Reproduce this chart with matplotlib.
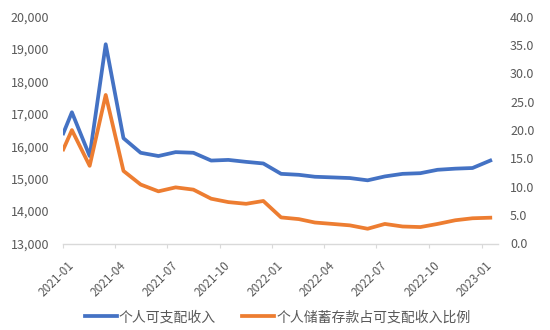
import matplotlib
matplotlib.use("Agg")
import matplotlib.pyplot as plt
import matplotlib.transforms as mtrans
from matplotlib.ticker import FuncFormatter, MultipleLocator
import pandas as pd

plt.rcParams['font.family'] = ['Noto Sans CJK SC', 'DejaVu Sans']

# first point sits at the start of Jan 2021, the rest are mid-month
dates = [pd.Timestamp('2021-01-01')] + list(pd.date_range('2021-01-01', '2023-01-01', freq='MS') + pd.Timedelta(days=15))

# 个人可支配收入 (left axis)
income = [16400, 17050, 15700, 19150, 16250, 15800, 15700, 15820, 15800, 15560,
          15580, 15520, 15470, 15150, 15120, 15060, 15040, 15020, 14950, 15070,
          15150, 15170, 15275, 15310, 15330, 15560]
# 个人储蓄存款占可支配收入比例 (right axis)
ratio = [16.6, 20.0, 13.7, 26.2, 12.8, 10.4, 9.2, 9.9, 9.5, 7.9,
         7.3, 7.0, 7.5, 4.6, 4.3, 3.7, 3.45, 3.2, 2.6, 3.45,
         3.0, 2.9, 3.45, 4.1, 4.45, 4.55]

tick_dates = pd.date_range('2021-01-01', '2023-01-01', freq='3MS')
tick_labels = [d.strftime('%Y-%m') for d in tick_dates]

gray = '#595959'
blue = '#4472C4'
orange = '#ED7D31'

fig = plt.figure(figsize=(5.5, 3.3), dpi=100)
ax = fig.add_axes([63.3 / 550, 1 - 243.5 / 330, (498.3 - 63.3) / 550, (243.5 - 16.7) / 330])
ax2 = ax.twinx()

l1, = ax.plot(dates, income, color=blue, lw=2.7, solid_joinstyle='round')
l2, = ax2.plot(dates, ratio, color=orange, lw=2.7, solid_joinstyle='round')

ax.set_xlim(pd.Timestamp('2021-01-01'), pd.Timestamp('2023-01-30'))
ax.set_ylim(13000, 20000)
ax2.set_ylim(0, 40)
ax.yaxis.set_major_locator(MultipleLocator(1000))
ax2.yaxis.set_major_locator(MultipleLocator(5))
ax.yaxis.set_major_formatter(FuncFormatter(lambda v, p: '{:,.0f}'.format(v)))
ax2.yaxis.set_major_formatter(FuncFormatter(lambda v, p: '{:.1f}'.format(v)))

for s in ['top', 'left', 'right']:
    ax.spines[s].set_visible(False)
for s in ['top', 'left', 'right', 'bottom']:
    ax2.spines[s].set_visible(False)
ax.spines['bottom'].set_color('#D9D9D9')
ax.spines['bottom'].set_linewidth(1)

ax.tick_params(axis='x', length=3, color='#D9D9D9', pad=8)
ax.tick_params(axis='y', length=0, pad=10, labelsize=9, labelcolor=gray)
ax2.tick_params(axis='y', length=0, pad=8.5, labelsize=9, labelcolor=gray)

ax.set_xticks(tick_dates)
ax.set_xticklabels(tick_labels, rotation=45, ha='right', fontsize=8.5, color=gray)
# Excel puts the rotated labels a bit right of the tick
offset = mtrans.ScaledTranslation(9.5 / 72, 0, fig.dpi_scale_trans)
for lab in ax.get_xticklabels():
    lab.set_transform(lab.get_transform() + offset)

fig.legend([l1, l2], ['个人可支配收入', '个人储蓄存款占可支配收入比例'],
           loc='center', bbox_to_anchor=(0.5045, 0.0385), ncol=2, frameon=False,
           fontsize=10, handlelength=2.3, handletextpad=0.15, columnspacing=1.9,
           labelcolor=gray)

fig.savefig('out.png', dpi=100)
